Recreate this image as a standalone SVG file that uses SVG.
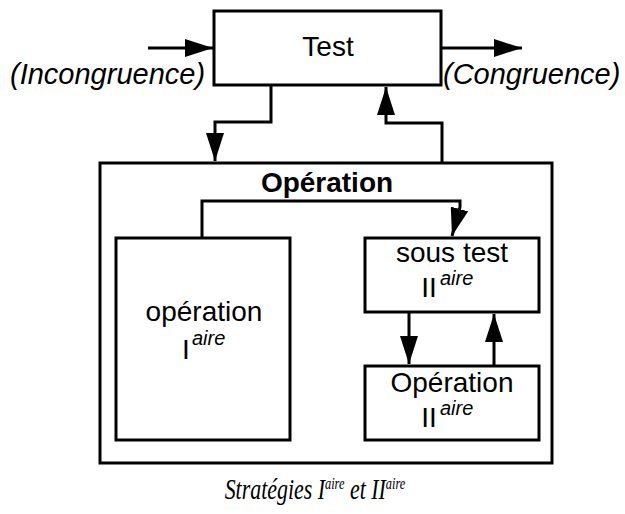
<svg xmlns="http://www.w3.org/2000/svg" width="625" height="514" viewBox="0 0 625 514">
  <defs>
    <marker id="arrow" viewBox="0 0 28 18" refX="28" refY="9" markerWidth="28" markerHeight="18" markerUnits="userSpaceOnUse" orient="auto">
      <path d="M0,0 L28,9 L0,18 Z" fill="#000"/>
    </marker>
    <style>
      .box { fill: #fff; stroke: #000; stroke-width: 3; }
      .wire { fill: none; stroke: #000; stroke-width: 3; marker-end: url(#arrow); }
      .lbl { font-family: "Liberation Sans", Arial, Helvetica, sans-serif; font-size: 28px; fill: #000; text-anchor: middle; }
      .side { font-family: "Liberation Sans", Arial, Helvetica, sans-serif; font-size: 29px; font-style: italic; fill: #000; }
      .sup { font-family: "Liberation Sans", Arial, Helvetica, sans-serif; font-style: italic; font-size: 20px; fill: #000; }
      .title { font-weight: bold; }
      .caption { font-family: "Liberation Serif", "Times New Roman", serif; font-size: 30px; font-style: italic; fill: #000; text-anchor: middle; }
      .capsup { font-size: 17px; }
    </style>
  </defs>

  <!-- outer operation frame -->
  <g id="operation">
    <rect class="box" x="100" y="163" width="452" height="300"/>
    <text class="lbl title" x="327" y="192">Opération</text>
  </g>

  <g id="test">
    <rect class="box" x="214" y="11" width="227" height="74"/>
    <text class="lbl" x="328" y="56">Test</text>
  </g>

  <g id="operation-1">
    <rect class="box" x="116" y="238" width="174" height="202"/>
    <text class="lbl" x="204" y="321">opération</text>
    <text class="lbl" x="186" y="359" text-anchor="start">I</text>
    <text class="sup" x="192" y="345">aire</text>
  </g>

  <g id="sous-test">
    <rect class="box" x="365" y="238" width="174" height="74"/>
    <text class="lbl" x="452" y="262">sous test</text>
    <text class="lbl" x="429" y="297" text-anchor="start">II</text>
    <text class="sup" x="440" y="285">aire</text>
  </g>

  <g id="operation-2">
    <rect class="box" x="365" y="366" width="174" height="74"/>
    <text class="lbl" x="452" y="392">Opération</text>
    <text class="lbl" x="429" y="427" text-anchor="start">II</text>
    <text class="sup" x="440" y="415">aire</text>
  </g>

  <g id="connectors">
    <path class="wire" d="M148,48 H213"/>
    <path class="wire" d="M441,48 H522"/>
    <path class="wire" d="M271,85 V122 H215 V161"/>
    <path class="wire" d="M442,163 V123 H386 V87"/>
    <path class="wire" d="M202,238 V201 H460 V207 L452,236"/>
    <path class="wire" d="M409,312 V364"/>
    <path class="wire" d="M494,366 V314"/>
  </g>

  <!-- side labels -->
  <text class="side" x="10" y="84">(Incongruence)</text>
  <text class="side" x="443" y="84">(Congruence)</text>

  <!-- caption, narrowed to a condensed serif look -->
  <text class="caption" transform="translate(315,499) scale(0.73,1)" x="0" y="0">Stratégies I<tspan class="capsup" dy="-10">aire</tspan><tspan dy="10"> et II</tspan><tspan class="capsup" dy="-10">aire</tspan></text>
</svg>
